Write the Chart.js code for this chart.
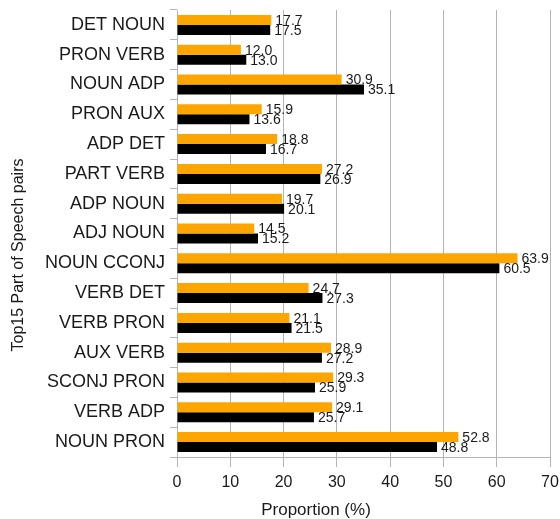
<!DOCTYPE html>
<html>
<head>
<meta charset="utf-8">
<script src="https://cdn.jsdelivr.net/npm/chart.js@4"></script>
<style>
  html, body { margin: 0; padding: 0; background: #fff; }
  #wrap { width: 560px; height: 519px; }
</style>
</head>
<body>
<div id="wrap"><canvas id="chart" width="560" height="519"></canvas></div>
<script>
// Pares de categorias (de arriba hacia abajo)
const categories = ["DET NOUN", "PRON VERB", "NOUN ADP", "PRON AUX", "ADP DET", "PART VERB", "ADP NOUN", "ADJ NOUN",
    "NOUN CCONJ", "VERB DET", "VERB PRON", "AUX VERB", "SCONJ PRON", "VERB ADP", "NOUN PRON"];
const orangeValues = [17.7, 12.0, 30.9, 15.9, 18.8, 27.2, 19.7, 14.5, 63.9, 24.7, 21.1, 28.9, 29.3, 29.1, 52.8];
const blackValues = [17.5, 13.0, 35.1, 13.6, 16.7, 26.9, 20.1, 15.2, 60.5, 27.3, 21.5, 27.2, 25.9, 25.7, 48.8];
const xTicks = [0, 10, 20, 30, 40, 50, 60, 70];
const xTitle = 'Proportion (%)';
const yTitle = 'Top15 Part of Speech pairs';

const FONT = "'Liberation Sans', Arial, sans-serif";

// etiquetas de valor al final de cada barra + titulos de ejes
const valueLabels = {
    id: 'valueLabels',
    afterDatasetsDraw(chart) {
        const ctx = chart.ctx;
        ctx.save();
        ctx.font = '14px ' + FONT;
        ctx.fillStyle = '#1a1a1a';
        ctx.textAlign = 'left';
        ctx.textBaseline = 'middle';
        chart.data.datasets.forEach((ds, di) => {
            const meta = chart.getDatasetMeta(di);
            meta.data.forEach((bar, i) => {
                ctx.fillText(ds.data[i].toFixed(1), bar.x + 4, bar.y + 1);
            });
        });

        // titulos
        ctx.textAlign = 'center';
        ctx.font = '17px ' + FONT;
        ctx.fillText(xTitle, 316, 510);
        ctx.translate(19, 255);
        ctx.rotate(-Math.PI / 2);
        ctx.font = '16px ' + FONT;
        ctx.fillText(yTitle, 0, 0);
        ctx.restore();
    }
};

new Chart(document.getElementById('chart'), {
    type: 'bar',
    data: {
        labels: categories,
        datasets: [
            { data: orangeValues, backgroundColor: '#ffa500', barPercentage: 1.0, categoryPercentage: 0.67 },
            { data: blackValues, backgroundColor: '#000000', barPercentage: 1.0, categoryPercentage: 0.67 }
        ]
    },
    options: {
        indexAxis: 'y',
        responsive: false,
        animation: false,
        layout: { padding: { top: 10, right: 0, left: 0, bottom: 0 } },
        plugins: { legend: { display: false }, tooltip: { enabled: false } },
        scales: {
            x: {
                min: 0, max: 70,
                afterBuildTicks(scale) { scale.ticks = xTicks.map(v => ({ value: v })); },
                afterFit(scale) { scale.height = 62; scale.paddingLeft = 0; scale.paddingRight = 10; },
                grid: { color: '#b3b3b3', tickLength: 10 },
                border: { color: '#b3b3b3' },
                ticks: { color: '#1a1a1a', font: { family: FONT, size: 16 }, padding: 6 }
            },
            y: {
                afterFit(scale) { scale.width = 177; scale.paddingTop = 0; scale.paddingBottom = 0; },
                grid: { drawOnChartArea: false, color: '#b3b3b3', tickLength: 7 },
                border: { color: '#b3b3b3' },
                ticks: { color: '#1a1a1a', font: { family: FONT, size: 18 }, padding: 5 }
            }
        }
    },
    plugins: [valueLabels]
});
</script>
</body>
</html>
